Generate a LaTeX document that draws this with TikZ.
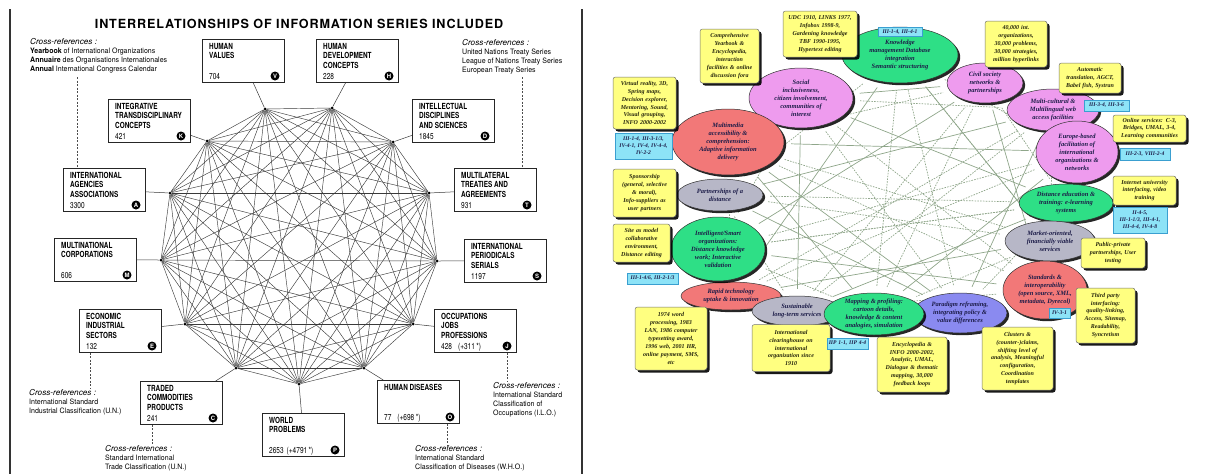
\documentclass[tikz,border=0pt]{standalone}
\usepackage{fontspec}
\setmainfont{Liberation Serif}
\newfontfamily\heros{TeX Gyre Heros}
\newfontfamily\heroscond[FakeStretch=0.76]{TeX Gyre Heros}
\newfontfamily\herosnarrow[FakeStretch=0.95]{TeX Gyre Heros}
\newfontfamily\noteserif{Liberation Serif}
\usetikzlibrary{shapes.geometric,shadows,backgrounds}

\definecolor{ink}{HTML}{1C1C48}
\definecolor{boxink}{HTML}{24240C}
\definecolor{pinkE}{HTML}{EE9BEE}
\definecolor{greenE}{HTML}{2EDF86}
\definecolor{salmonE}{HTML}{F27878}
\definecolor{grayE}{HTML}{B7B7C7}
\definecolor{blueE}{HTML}{8A8AF0}
\definecolor{noteY}{HTML}{FFFF80}
\definecolor{codeC}{HTML}{8DE3F7}
\definecolor{codeB}{HTML}{3A9FD0}
\definecolor{netG}{HTML}{8FA68A}
\definecolor{meshK}{HTML}{3A3A3A}

\newcommand\xhead{\heros\itshape\fontsize{8.2}{9}\selectfont}

% series box: name, x, y (top-left), title, count, letter
\newcommand\seriesbox[6]{%
  \node[sbox] (#1) at (#2,#3) {};
  \node[stitle] (#1-t) at (#2+7,#3+4) {#4};
  \node[snum] (#1-n) at (#2+7,#3+40) {#5};
  \node[sletter] (#1-l) at (#2+73,#3+37) {#6};
}
% topic ellipse: name, alias, x, y, width, height, colour, text
\newcommand\topic[8]{%
  \node[ell, fill=#7, minimum width=#5pt, minimum height=#6pt, alias=#2] (#1) at (#3,#4) {};
  \node[etext] (#1-x) at (#1.center) {#8};
}
% yellow memo: name, x, y, width, height, text
\newcommand\memo[6]{%
  \node[memobox, text width=#4pt, minimum height=#5pt] (#1) at (#2,#3) {#6};
}
% cyan code tag: name, x, y, width, height, text
\newcommand\codetag[6]{%
  \node[codebox, text width=#4pt, minimum height=#5pt] (#1) at (#2,#3) {#6};
}

\tikzset{
  sbox/.style={draw=black!85, line width=0.8pt, fill=white, minimum width=82pt,
    minimum height=43pt, anchor=north west, inner sep=0pt},
  stitle/.style={anchor=north west, inner sep=0pt, align=left,
    font=\heroscond\bfseries\fontsize{8.4}{9.4}\selectfont},
  snum/.style={anchor=base west, inner sep=0pt, font=\heroscond\fontsize{8.6}{9}\selectfont},
  sletter/.style={circle, fill=black, inner sep=0pt, minimum size=9pt, text=white,
    font=\heros\bfseries\fontsize{6}{6}\selectfont},
  mesh/.style={draw=meshK, line width=0.45pt},
  vdot/.style={circle, fill=black, inner sep=0pt, minimum size=3pt},
  tie/.style={draw=meshK, line width=0.5pt},
  xref/.style={draw=black!70, line width=0.6pt, dash pattern=on 2pt off 1.5pt},
  xtext/.style={anchor=north west, inner sep=0pt, align=left,
    font=\herosnarrow\fontsize{7.4}{9}\selectfont},
  ell/.style={ellipse, draw=black!80, line width=0.5pt, inner sep=0pt,
    drop shadow={shadow xshift=2.2pt, shadow yshift=-2.2pt, fill=black, opacity=0.85}},
  etext/.style={align=center, inner sep=0pt, text=ink,
    font=\noteserif\bfseries\itshape\fontsize{6.5}{8}\selectfont},
  memobox/.style={rectangle, rounded corners=2.5pt, fill=noteY, draw=black!55,
    line width=0.5pt, inner xsep=0pt, inner ysep=1pt, align=center, text=boxink,
    font=\noteserif\bfseries\itshape\fontsize{6}{7.9}\selectfont,
    drop shadow={shadow xshift=2.5pt, shadow yshift=-2.5pt, fill=black, opacity=0.9}},
  codebox/.style={rectangle, fill=codeC, draw=codeB, line width=0.5pt, inner xsep=0pt,
    inner ysep=0.5pt, align=center, text=ink,
    font=\noteserif\bfseries\itshape\fontsize{5.6}{7}\selectfont},
  netline/.style={draw=netG, line width=0.7pt, dash pattern=on 1.6pt off 1.2pt,
    shorten <=7pt, shorten >=7pt},
  netsolid/.style={draw=netG, line width=0.7pt, shorten <=7pt, shorten >=7pt},
}

\begin{document}
\begin{tikzpicture}[x=1pt, y=-1pt]
\useasboundingbox (0,0) rectangle (1206,474);

% ---------------- left panel ----------------
\draw[line width=2.6pt, black!80] (10,9) -- (10,474);
\draw[line width=2.6pt, black!80] (582,9) -- (582,474);

\node[font=\heros\bfseries\fontsize{12.6}{14}\selectfont\addfontfeature{LetterSpace=7}]
  (title) at (299,24) {INTERRELATIONSHIPS OF INFORMATION SERIES INCLUDED};

% vertices of the thirteen-sided mesh
\node[vdot] (pV) at (265,109) {};
\node[vdot] (pH) at (332,108) {};
\node[vdot] (pD) at (393,142) {};
\node[vdot] (pT) at (429,193) {};
\node[vdot] (pS) at (437,261) {};
\node[vdot] (pJ) at (413,324) {};
\node[vdot] (pO) at (364,368) {};
\node[vdot] (pP) at (299,384) {};
\node[vdot] (pC) at (236,368) {};
\node[vdot] (pE) at (185,324) {};
\node[vdot] (pM) at (161,260) {};
\node[vdot] (pA) at (170,193) {};
\node[vdot] (pK) at (207,141) {};

% every series linked with every other
\foreach \a [count=\i] in {V,H,D,T,S,J,O,P,C,E,M,A,K}{
  \foreach \b [count=\j] in {V,H,D,T,S,J,O,P,C,E,M,A,K}{
    \ifnum\j>\i \draw[mesh] (p\a) -- (p\b); \fi
  }
}

\seriesbox{hv}{202}{39}{HUMAN\\VALUES}{704}{V}
\seriesbox{hd}{316}{39}{HUMAN\\DEVELOPMENT\\CONCEPTS}{228}{H}
\seriesbox{it}{108}{99}{INTEGRATIVE\\TRANSDISCIPLINARY\\CONCEPTS}{421}{K}
\seriesbox{id}{412}{99}{INTELLECTUAL\\DISCIPLINES\\AND SCIENCES}{1845}{D}
\seriesbox{ia}{63}{168}{INTERNATIONAL\\AGENCIES\\ASSOCIATIONS}{3300}{A}
\seriesbox{mt}{454}{168}{MULTILATERAL\\TREATIES AND\\AGREEMENTS}{931}{T}
\seriesbox{mn}{54}{238}{MULTINATIONAL\\CORPORATIONS}{606}{M}
\seriesbox{ip}{464}{239}{INTERNATIONAL\\PERIODICALS\\SERIALS}{1197}{S}
\seriesbox{ec}{79}{309}{ECONOMIC\\INDUSTRIAL\\SECTORS}{132}{E}
\seriesbox{oc}{434}{309}{OCCUPATIONS\\JOBS\\PROFESSIONS}{428\hspace{6pt}(+311\,*)}{J}
\seriesbox{tc}{140}{381}{TRADED\\COMMODITIES\\PRODUCTS}{241}{C}
\seriesbox{hdis}{377}{380}{HUMAN DISEASES}{77\hspace{6pt}(+698\,*)}{O}
\seriesbox{wp}{262}{413}{WORLD\\PROBLEMS}{2653\hspace{3pt}(+4791\,*)}{P}

% boxes tied to their vertices
\draw[tie] (hv) -- (pV);
\draw[tie] (hd) -- (pH);
\draw[tie] (it) -- (pK);
\draw[tie] (id) -- (pD);
\draw[tie] (ia) -- (pA);
\draw[tie] (mt) -- (pT);
\draw[tie] (mn) -- (pM);
\draw[tie] (ip) -- (pS);
\draw[tie] (ec) -- (pE);
\draw[tie] (oc) -- (pJ);
\draw[tie] (tc) -- (pC);
\draw[tie] (hdis) -- (pO);
\draw[tie] (wp) -- (pP);

% cross-references
\node[xtext] (xr1) at (30,38) {{\xhead Cross-references :}\\
  \textbf{Yearbook} of International Organizations\\
  \textbf{Annuaire} des Organisations Internationales\\
  \textbf{Annual} International Congress Calendar};
\node[xtext] (xr2) at (462,39) {{\xhead Cross-references :}\\
  United Nations Treaty Series\\League of Nations Treaty Series\\European Treaty Series};
\node[xtext] (xr3) at (29,389) {{\xhead Cross-references :}\\
  International Standard\\Industrial Classification (U.N.)};
\node[xtext] (xr4) at (105,445) {{\xhead Cross-references :}\\
  Standard International\\Trade Classification (U.N.)};
\node[xtext] (xr5) at (493,382) {{\xhead Cross-references :}\\
  International Standard\\Classification of\\Occupations (I.L.O.)};
\node[xtext] (xr6) at (415,445) {{\xhead Cross-references :}\\
  International Standard\\Classification of Diseases (W.H.O.)};

\coordinate (d1) at (77,77);   \draw[xref] (d1) -- (d1 |- ia.north);
\coordinate (d2) at (522,77);  \draw[xref] (d2) -- (d2 |- mt.north);
\coordinate (d3) at (90,389);  \draw[xref] (d3 |- ec.south) -- (d3);
\coordinate (d4) at (152,445); \draw[xref] (d4 |- tc.south) -- (d4);
\coordinate (d5) at (507,382); \draw[xref] (d5 |- oc.south) -- (d5);
\coordinate (d6) at (447,445); \draw[xref] (d6 |- hdis.south) -- (d6);

% ---------------- right panel ----------------
\topic{so}{r14}{801}{98}{104}{60}{pinkE}{Social\\inclusiveness,\\citizen involvement,\\communities of\\interest}
\topic{mm}{r13}{728}{142}{112}{66}{salmonE}{Multimedia\\accessibility \&\\comprehension:\\Adaptive information\\delivery}
\topic{kn}{r0}{900}{55}{116}{56}{greenE}{Knowledge\\management Database\\integration\\Semantic structuring}
\topic{ci}{r1}{985}{83}{76}{40}{pinkE}{Civil society\\networks \&\\partnerships}
\topic{mc}{r2}{1053}{110}{92}{42}{pinkE}{Multi-cultural \&\\Multilingual web\\access facilities}
\topic{eu}{r3}{1077}{152}{82}{62}{pinkE}{Europe-based\\facilitation of\\international\\organizations \&\\networks}
\topic{de}{r4}{1066}{203}{94}{38}{greenE}{Distance education \&\\training: e-learning\\systems}
\topic{mk}{r5}{1050}{241}{90}{40}{grayE}{Market-oriented,\\financially viable\\services}
\topic{st}{r6}{1045}{290}{84}{58}{salmonE}{Standards \&\\interoperability\\(open source, XML,\\metadata, Dyrecol)}
\topic{pa}{r7}{960}{313}{94}{40}{blueE}{Paradigm reframing,\\integrating policy \&\\value differences}
\topic{ra}{r10}{731}{296}{100}{28}{salmonE}{Rapid technology\\uptake \& innovation}
\topic{su}{r9}{797}{311}{90}{30}{grayE}{Sustainable\\long-term services}
\topic{ma}{r8}{874}{314}{100}{42}{greenE}{Mapping \& profiling:\\cartoon details,\\knowledge \& content\\analogies, simulation}
\topic{in}{r11}{718}{249}{94}{64}{greenE}{Intelligent/Smart\\organizations:\\Distance knowledge\\work; Interactive\\validation}
\topic{pt}{r12}{720}{195}{86}{32}{grayE}{Partnerships of a\\distance}

% links between the topics
\begin{pgfonlayer}{background}
\foreach \i in {0,...,14}{
  \foreach \s in {3,7}{
    \pgfmathtruncatemacro\j{mod(\i+\s,15)}
    \draw[netline] (r\i) -- (r\j);
  }
  \pgfmathtruncatemacro\j{mod(\i+5,15)}
  \draw[netsolid] (r\i) -- (r\j);
}
\draw[netsolid] (so) -- (ci);
\draw[netsolid] (pt) -- (in);
\draw[netline] (kn) -- (mk);
\draw[netline] (in) -- (de);
\draw[netsolid] (mm) -- (pa);
\end{pgfonlayer}

\memo{m1}{729.5}{56}{59}{54}{Comprehensive\\Yearbook \&\\Encyclopedia,\\interaction\\facilities \& online\\discussion fora}
\memo{m2}{820}{34}{74}{46}{UDC 1910, LINKS 1977,\\Infobox 1998-9,\\Gardening knowledge\\TBF 1990-1995,\\Hypertext editing}
\memo{m3}{644.5}{103}{63}{52}{Virtual reality, 3D,\\Spring maps,\\Decision explorer,\\Mentoring, Sound,\\Visual grouping,\\INFO 2000-2002}
\memo{m4}{644.5}{193}{63}{48}{Sponsorship\\(general, selective\\\& moral),\\Info-suppliers as\\user partners}
\memo{m5}{641.5}{243}{57}{38}{Site as model\\collaborative\\environment,\\Distance editing}
\memo{m6}{671}{338.5}{72}{63}{1974 word\\processing, 1983\\LAN, 1986 computer\\typesetting award,\\1996 web, 2001 HR,\\online payment, SMS,\\etc}
\memo{m7}{791}{348}{78}{47}{International\\clearinghouse on\\international\\organization since\\1910}
\memo{m8}{912}{364.5}{70}{55}{Encyclopedia \&\\INFO 2000-2002,\\Analytic, UMAL,\\Dialogue \& thematic\\mapping, 30,000\\feedback loops}
\memo{m9}{1017.5}{358.5}{71}{63}{Clusters \&\\(counter-)claims,\\shifting level of\\analysis, Meaningful\\configuration,\\Coordination\\templates}
\memo{m10}{1105.5}{315.5}{59}{55}{Third party\\interfacing:\\quality-linking,\\Access, Sitemap,\\Readability,\\Syncretism}
\memo{m11}{1113}{253}{64}{30}{Public-private\\partnerships, User\\testing}
\memo{m12}{1144.5}{190.5}{63}{29}{Internet university\\interfacing, video\\training}
\memo{m13}{1149.5}{128.5}{73}{27}{Online services: C-3,\\Bridges, UMAL, 3-4,\\Learning communities}
\memo{m14}{1090}{78}{62}{30}{Automatic\\translation, AGCT,\\Babel fish, Systran}
\memo{m15}{1016}{44}{62}{46}{40,000 int.\\organizations,\\30,000 problems,\\30,000 strategies,\\million hyperlinks}

\codetag{c1}{900}{32}{44}{9}{III-1-4, III-4-1}
\codetag{c2}{643.5}{146}{57}{26}{III-1-4, III-3-1/3,\\IV-4-1, IV-4, IV-4-4,\\IV-2-2}
\codetag{c3}{652.5}{278.5}{51}{11}{III-1-4/6, III-2-1/3}
\codetag{c4}{847.5}{343.5}{41}{11}{IIP 1-1, IIP 4-4}
\codetag{c5}{1059.5}{313}{21}{10}{IV-3-1}
\codetag{c6}{1140}{220}{54}{26}{II-4-5,\\III-1-1/3, III-4-1,\\III-4-4, IV-4-8}
\codetag{c7}{1145}{154}{50}{12}{III-2-3, VIII-2-4}
\codetag{c8}{1106.5}{105.5}{45}{11}{III-3-4, III-3-6}

\end{tikzpicture}
\end{document}
